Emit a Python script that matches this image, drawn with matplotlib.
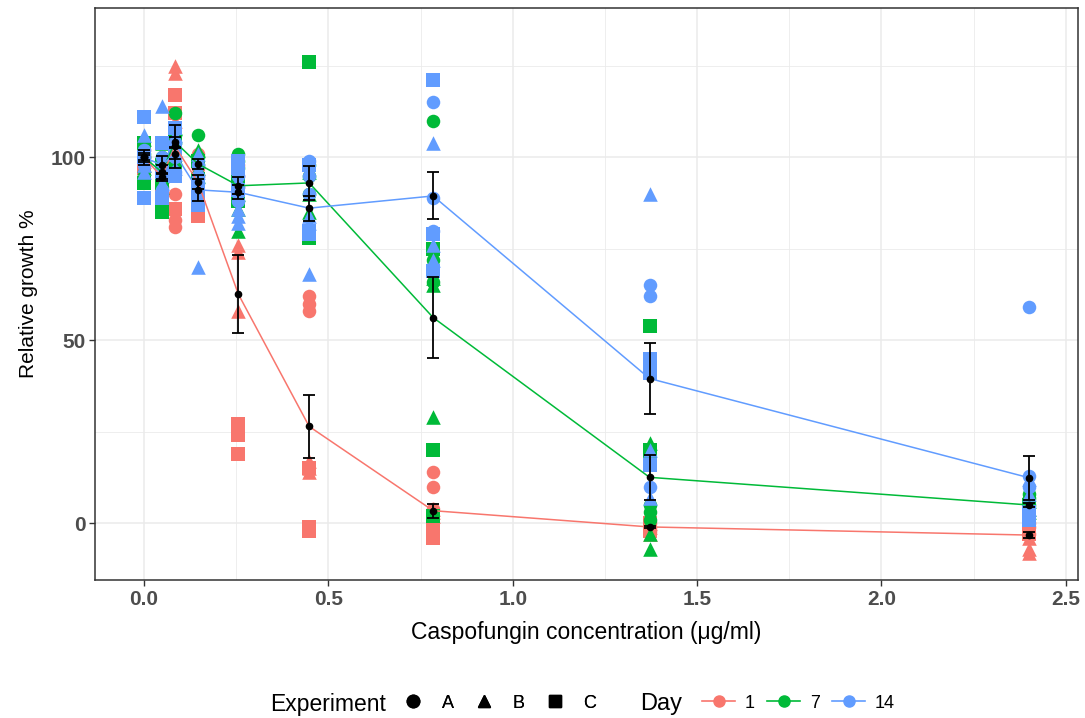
import numpy as np
import pandas as pd
import matplotlib
matplotlib.use("Agg")
import matplotlib.pyplot as plt
from matplotlib.lines import Line2D

plt.rcParams['font.family'] = ['Liberation Sans', 'DejaVu Sans']

# caspofungin concentrations (ug/ml)
conc = [0, 0.048, 0.084, 0.146, 0.256, 0.448, 0.784, 1.371, 2.4]

# relative growth %, three replicates per concentration
day1_A = [[100, 98, 102], [92, 90, 96], [90, 83, 81], [101, 97, 95], [98, 95, 92],
          [62, 60, 58], [14, 10, 4], [-1, 0, -2], [0, -1, -3]]
day1_B = [[101, 99, 100], [98, 100, 95], [125, 123, 110], [99, 93, 90], [76, 74, 58],
          [17, 15, 14], [4, 3, 2], [-3, -1, 0], [-8, -7, -4]]
day1_C = [[97, 103, 100], [93, 97, 91], [117, 112, 86], [92, 88, 84], [27, 24, 19],
          [-2, -1, 15], [0, -2, -4], [-2, 0, 0], [-3, -2, -1]]

day7_A = [[99, 101, 100], [96, 99, 100], [112, 106, 104], [106, 100, 98], [101, 99, 97],
          [98, 95, 90], [110, 72, 66], [5, 3, 1], [8, 7, 5]]
day7_B = [[105, 97, 98], [104, 97, 92], [108, 102, 100], [102, 97, 95], [90, 86, 80],
          [96, 90, 85], [67, 29, 65], [-7, -3, 22], [6, 4, 3]]
day7_C = [[93, 104, 103], [85, 98, 93], [105, 103, 98], [99, 94, 93], [96, 93, 88],
          [126, 79, 78], [75, 20, 2], [54, 18, 20], [5, 4, 3]]

day14_A = [[98, 102, 100], [95, 91, 100], [104, 100, 96], [98, 95, 93], [95, 92, 88],
           [99, 95, 90], [115, 89, 80], [65, 62, 10], [59, 13, 10]]
day14_B = [[106, 96, 98], [114, 99, 93], [106, 101, 97], [70, 101, 96], [84, 86, 82],
           [84, 82, 68], [104, 72, 76], [90, 20, 7], [12, 8, 4]]
day14_C = [[111, 89, 100], [104, 89, 96], [108, 102, 95], [92, 88, 87], [99, 97, 91],
           [98, 80, 79], [121, 79, 69], [45, 41, 16], [3, 2, 1]]

days = ['1', '7', '14']
experiments = ['A', 'B', 'C']
day_colors = {'1': '#F8766D', '7': '#00BA38', '14': '#619CFF'}
exp_markers = {'A': 'o', 'B': '^', 'C': 's'}

raw = {('1', 'A'): day1_A, ('1', 'B'): day1_B, ('1', 'C'): day1_C,
       ('7', 'A'): day7_A, ('7', 'B'): day7_B, ('7', 'C'): day7_C,
       ('14', 'A'): day14_A, ('14', 'B'): day14_B, ('14', 'C'): day14_C}

rows = []
for (day, exp), reps in raw.items():
    for c, vals in zip(conc, reps):
        for v in vals:
            rows.append({'day': day, 'exp': exp, 'conc': c, 'growth': v})
df = pd.DataFrame(rows)

# mean +/- standard error per day and concentration
summary = df.groupby(['day', 'conc'])['growth'].agg(['mean', 'std', 'count']).reset_index()
summary['se'] = summary['std'] / np.sqrt(summary['count'])

fig = plt.figure(figsize=(10.85, 7.18), dpi=100)
ax = fig.add_axes([95 / 1085, 1 - 580 / 718, (1078 - 95) / 1085, (580 - 8) / 718])

# raw points
for day in days:
    for exp in experiments:
        sub = df[(df.day == day) & (df.exp == exp)]
        ax.scatter(sub.conc, sub.growth, s=95 if exp != 'B' else 110,
                   marker=exp_markers[exp], color=day_colors[day],
                   linewidths=0, zorder=2)

# day means joined by lines
for day in days:
    s = summary[summary.day == day].sort_values('conc')
    ax.plot(s['conc'], s['mean'], color=day_colors[day], lw=1.1, zorder=3)

for day in days:
    s = summary[summary.day == day]
    ax.errorbar(s['conc'], s['mean'], yerr=s['se'], fmt='o', color='black',
                ms=4.5, elinewidth=1.3, capsize=4, capthick=1.3, zorder=4)

ax.set_xlim(-0.133, 2.533)
ax.set_ylim(-15.5, 140.8)
ax.set_xticks([0, 0.5, 1.0, 1.5, 2.0, 2.5])
ax.set_xticklabels(['0.0', '0.5', '1.0', '1.5', '2.0', '2.5'])
ax.set_yticks([0, 50, 100])
ax.set_xticks([0.25, 0.75, 1.25, 1.75, 2.25], minor=True)
ax.set_yticks([25, 75, 125], minor=True)
ax.grid(which='major', color='#EBEBEB', lw=1.1, zorder=0)
ax.grid(which='minor', color='#EBEBEB', lw=0.6, zorder=0)
ax.set_axisbelow(True)
ax.tick_params(which='major', length=4, width=1, color='#333333', labelsize=15,
               labelcolor='#4D4D4D', pad=3)
ax.tick_params(which='minor', length=0)
for lab in ax.get_xticklabels() + ax.get_yticklabels():
    lab.set_fontweight('bold')
for sp in ax.spines.values():
    sp.set_color('#333333')
    sp.set_linewidth(1.1)

ax.set_xlabel('Caspofungin concentration (μg/ml)', fontsize=16.5, labelpad=9)
ax.set_ylabel('Relative growth %', fontsize=15, labelpad=9)

# legends along the bottom
exp_handles = [Line2D([], [], ls='none', marker=exp_markers[e], color='black', ms=9)
               for e in experiments]
day_handles = [Line2D([], [], ls='-', lw=1.2, marker='o', color=day_colors[d], ms=8)
               for d in days]

fig.text(270 / 1085, 1 - 704 / 718, 'Experiment', fontsize=16.5, va='center', ha='left')
leg1 = fig.legend(exp_handles, experiments, loc='center left', ncol=3, frameon=False,
                  bbox_to_anchor=(388 / 1085, 1 - 703 / 718), fontsize=13,
                  handlelength=1.0, handletextpad=1.1, columnspacing=1.15)
fig.text(640 / 1085, 1 - 704 / 718, 'Day', fontsize=17, va='center', ha='left')
leg2 = fig.legend(day_handles, days, loc='center left', ncol=3, frameon=False,
                  bbox_to_anchor=(686 / 1085, 1 - 703 / 718), fontsize=13,
                  handlelength=1.8, handletextpad=0.55, columnspacing=0.7)
fig.add_artist(leg1)

fig.savefig('out.png', dpi=100)
